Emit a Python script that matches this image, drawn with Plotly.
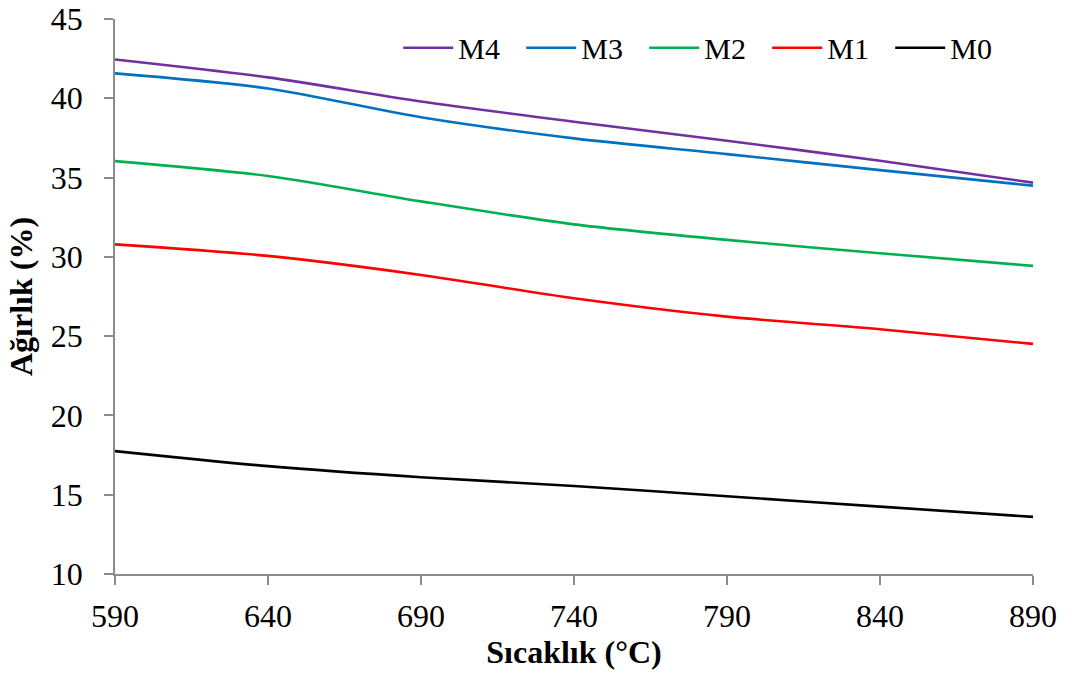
import plotly.graph_objects as go

# Temperature points (°C)
temperature = [590, 640, 690, 740, 790, 840, 890]

# Weight (%) for each sample
m4 = [42.45, 41.32, 39.8, 38.52, 37.32, 36.06, 34.68]
m3 = [41.57, 40.62, 38.8, 37.47, 36.48, 35.47, 34.49]
m2 = [36.04, 35.1, 33.5, 32.05, 31.07, 30.23, 29.43]
m1 = [30.79, 30.06, 28.86, 27.39, 26.23, 25.44, 24.51]
m0 = [17.75, 16.8, 16.1, 15.55, 14.9, 14.25, 13.6]

series = [
    ("M4", m4, "#7030A0"),
    ("M3", m3, "#0070C0"),
    ("M2", m2, "#00B050"),
    ("M1", m1, "#FF0000"),
    ("M0", m0, "#000000"),
]

x_ticks = [590, 640, 690, 740, 790, 840, 890]
y_ticks = [10, 15, 20, 25, 30, 35, 40, 45]

font_family = "Liberation Serif"

fig = go.Figure()
for name, values, color in series:
    fig.add_trace(go.Scatter(
        x=temperature, y=values, name=name, mode="lines",
        line=dict(color=color, width=2.6, shape="spline", smoothing=0.8),
    ))

axis_common = dict(
    showgrid=False, zeroline=False, showline=True, automargin=False,
    linecolor="#8C8C8C", linewidth=1.5,
    ticks="outside", ticklen=9, tickwidth=1.5, tickcolor="#8C8C8C",
    tickfont=dict(family=font_family, size=32, color="#000000"),
)

fig.update_layout(
    width=1072, height=675,
    margin=dict(l=115, r=39, t=19, b=101, autoexpand=False),
    paper_bgcolor="white", plot_bgcolor="white",
    font=dict(family=font_family, color="#000000"),
    xaxis=dict(
        range=[590, 890], tickvals=x_ticks, ticktext=[str(v) for v in x_ticks],
        ticklabelstandoff=4,
        title=dict(text="<b>Sıcaklık (°C)</b>", font=dict(family=font_family, size=32), standoff=0),
        **axis_common,
    ),
    yaxis=dict(
        range=[10, 45], tickvals=y_ticks, ticktext=[str(v) for v in y_ticks],
        ticklabelstandoff=15,
        title=dict(text="<b>Ağırlık (%)</b>", font=dict(family=font_family, size=32), standoff=9),
        **axis_common,
    ),
    legend=dict(
        orientation="h", x=0.3085, y=0.995, xanchor="left", yanchor="top",
        font=dict(family=font_family, size=30),
        bgcolor="rgba(0,0,0,0)", entrywidth=58, entrywidthmode="pixels",
        itemwidth=50,
    ),
    showlegend=True,
)

fig.write_html("out.html")
